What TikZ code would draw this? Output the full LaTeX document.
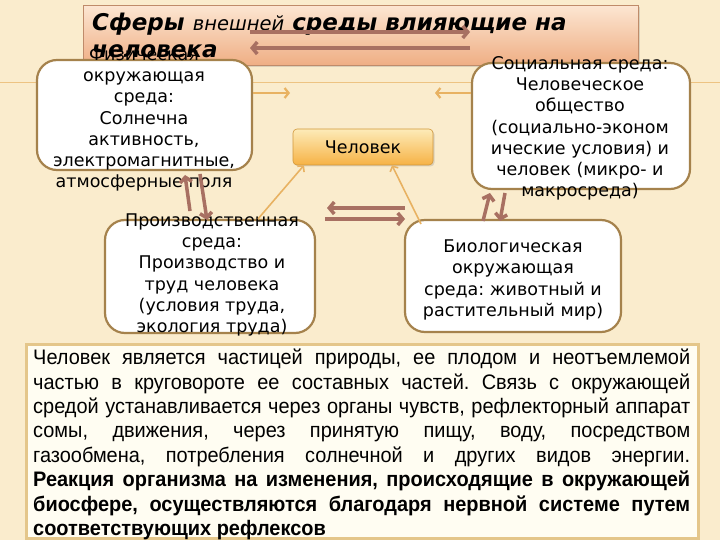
\documentclass[tikz,border=0pt]{standalone}
\usepackage{fontspec}
\setmainfont{DejaVu Sans}
\newfontfamily\narrowfont[FakeStretch=0.95]{Liberation Sans}
\usetikzlibrary{shadows,arrows.meta}
\frenchspacing
\definecolor{bg}{HTML}{FAECCD}
\definecolor{boxborder}{HTML}{A5824C}
\definecolor{brownarr}{HTML}{A87062}
\definecolor{orangearr}{HTML}{E8B262}
\definecolor{titletop}{HTML}{FCE6D2}
\definecolor{titlebot}{HTML}{EFAE84}
\definecolor{mantop}{HTML}{FDEBB8}
\definecolor{manbot}{HTML}{F6B245}
\definecolor{parafill}{HTML}{FFFDF2}
\definecolor{paraborder}{HTML}{E4C68A}
\tikzset{
  wbox/.style={draw=boxborder, line width=2.2pt, fill=white, rounded corners=20pt, inner sep=0pt},
  btext/.style={align=center, inner sep=0pt, font=\fontsize{17.5}{21.2}\selectfont},
  titlebox/.style={draw=titlebot!80!black, line width=0.6pt, top color=titletop, bottom color=titlebot,
     drop shadow={opacity=0.25, shadow xshift=2pt, shadow yshift=-2pt}, inner sep=0pt},
  manbox/.style={draw=manbot!85!black, line width=0.6pt, top color=mantop, bottom color=manbot, rounded corners=4pt,
     drop shadow={opacity=0.25, shadow xshift=1.5pt, shadow yshift=-1.5pt}, font=\fontsize{17.5}{21}\selectfont},
  brarrow/.style={draw=brownarr, line width=3.5pt, -{Straight Barb[length=5pt,width=12pt]}},
  orarrow/.style={draw=orangearr, line width=2.2pt, -{Straight Barb[length=4pt,width=10pt]}},
  orthin/.style={draw=orangearr, line width=1.6pt, -{Straight Barb[length=4pt,width=9pt]}},
  parabox/.style={draw=paraborder, line width=2.5pt, fill=parafill, inner sep=0pt},
  paratext/.style={align=left, inner sep=0pt, font=\narrowfont\fontsize{21}{24.4}\selectfont}
}
\begin{document}
\begin{tikzpicture}[x=1pt,y=-1pt]
\useasboundingbox (0,0) rectangle (720,540);
\fill[bg] (0,0) rectangle (720,540);
\draw[orangearr!70!bg, line width=1pt] (0,83) -- (720,83);

% title
\node[titlebox, minimum width=555pt, minimum height=60pt, anchor=north west] (title) at (83,5) {};
\node[anchor=base west, inner sep=0pt, font=\fontsize{23}{26}\selectfont\bfseries\itshape] (t1) at (92,31)
  {Сферы {\mdseries\fontsize{19.5}{24}\selectfont внешней} среды влияющие на};
\node[anchor=base west, inner sep=0pt, font=\fontsize{23}{26}\selectfont\bfseries\itshape] (t2) at (92,58) {человека};
\coordinate (ta1) at (250,32); \coordinate (ta2) at (470,32);
\coordinate (tb1) at (470,48); \coordinate (tb2) at (250,48);
\draw[brarrow] (ta1) -- (ta2);
\draw[brarrow] (tb1) -- (tb2);

% boxes
\node[wbox, minimum width=215pt, minimum height=110pt] (phys) at (144.5,115) {};
\node[btext] (physt) at (144,119.5) {Физическая\\окружающая\\среда:\\Солнечна\\активность,\\электромагнитные,\\атмосферные поля};

\node[wbox, minimum width=218pt, minimum height=126pt] (soc) at (581,126) {};
\node[btext] (soct) at (580,128.5) {Социальная среда:\\Человеческое\\общество\\(социально-эконом\\ические условия) и\\человек (микро- и\\макросреда)};

\node[wbox, minimum width=210pt, minimum height=113pt] (prod) at (210,276.5) {};
\node[btext] (prodt) at (212,275) {Производственная\\среда:\\Производство и\\труд человека\\(условия труда,\\экология труда)};

\node[wbox, minimum width=216pt, minimum height=112pt] (bio) at (513,276) {};
\node[btext] (biot) at (513,280) {Биологическая\\окружающая\\среда: животный и\\растительный мир)};

\node[manbox, minimum width=140pt, minimum height=36pt] (man) at (363,147) {Человек};

% orange arrows
\coordinate (pa) at (290,93);
\draw[orarrow] ([yshift=22pt]phys.east) -- (pa);
\coordinate (sa) at (435,93);
\draw[orarrow] ([yshift=33pt]soc.west) -- (sa);
\coordinate (bs) at (421,224);
\draw[orthin] ([xshift=48pt]prod.north) -- ([xshift=-59pt]man.south);
\draw[orthin] (bs) -- ([xshift=29pt]man.south);

% brown arrows
\coordinate (h1) at (405,208); \coordinate (h2) at (327,208);
\coordinate (h3) at (325,219); \coordinate (h4) at (405,219);
\draw[brarrow] (h1) -- (h2);
\draw[brarrow] (h3) -- (h4);
\coordinate (v1) at (190,211); \coordinate (v2) at (185,175);
\coordinate (v3) at (200,174); \coordinate (v4) at (207,220);
\draw[brarrow] (v1) -- (v2);
\draw[brarrow] (v3) -- (v4);
\coordinate (w1) at (483,221); \coordinate (w2) at (490,193);
\coordinate (w3) at (505,193); \coordinate (w4) at (500,221);
\draw[brarrow] (w1) -- (w2);
\draw[brarrow] (w3) -- (w4);

% paragraph
\node[parabox, minimum width=672pt, minimum height=194pt, anchor=north west] (para) at (25,343) {};
\node[paratext, anchor=north west] (parat) at (33,349) {%
\makebox[657pt][s]{Человек является частицей природы, ее плодом и неотъемлемой}\\
\makebox[657pt][s]{частью в круговороте ее составных частей. Связь с окружающей}\\
\makebox[657pt][s]{средой устанавливается через органы чувств, рефлекторный аппарат}\\
\makebox[657pt][s]{сомы, движения, через принятую пищу, воду, посредством}\\
\makebox[657pt][s]{газообмена, потребления солнечной и других видов энергии.}\\
\makebox[657pt][s]{\bfseries Реакция организма на изменения, происходящие в окружающей}\\
\makebox[657pt][s]{\bfseries биосфере, осуществляются благодаря нервной системе путем}\\
\makebox[657pt][l]{\bfseries соответствующих рефлексов}};
\end{tikzpicture}
\end{document}
